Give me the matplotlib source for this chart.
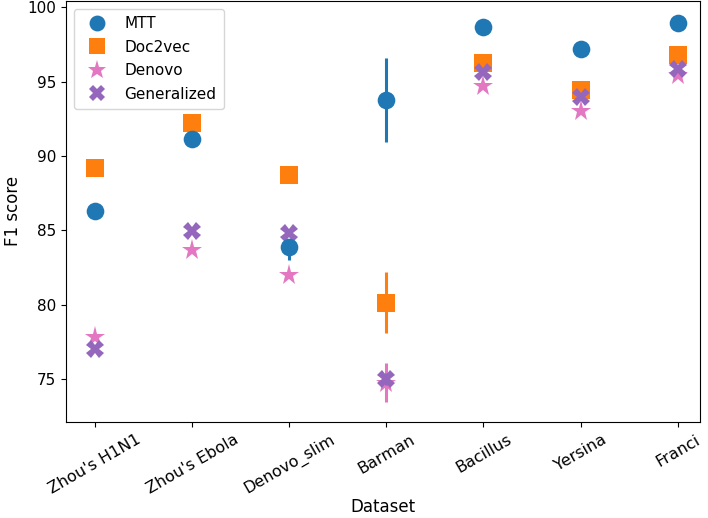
import matplotlib
matplotlib.use("Agg")
import matplotlib.pyplot as plt
from matplotlib.lines import Line2D
import numpy as np

datasets = ["Zhou's H1N1", "Zhou's Ebola", "Denovo_slim", "Barman", "Bacillus", "Yersina", "Franci"]

mtt = [86.32, 91.14, 83.90, 93.77, 98.69, 97.21, 98.92]
mtt_err_low = [0.2, 0.2, 0.9, 2.85, 0.2, 0.2, 0.2]
mtt_err_high = [0.2, 0.2, 0.3, 2.84, 0.2, 0.2, 0.2]

doc2vec = [89.17, 92.20, 88.72, 80.09, 96.23, 94.44, 96.79]
doc2vec_err_low = [0.2, 0.2, 0.2, 2.02, 0.2, 0.2, 0.2]
doc2vec_err_high = [0.2, 0.2, 0.2, 2.13, 0.2, 0.2, 0.2]

denovo = [77.84, 83.68, 81.97, 74.75, 94.71, 93.03, 95.44]
denovo_err_low = [0.2, 0.2, 0.2, 1.28, 0.2, 0.2, 0.2]
denovo_err_high = [0.2, 0.2, 0.2, 1.35, 0.2, 0.2, 0.2]

generalized = [77.00, 84.97, 84.80, 74.98, 95.67, 93.95, 95.83]
generalized_err_low = [0.2, 0.2, 0.2, 0.4, 0.2, 0.2, 0.2]
generalized_err_high = [0.2, 0.2, 0.2, 0.4, 0.2, 0.2, 0.2]

fig = plt.figure(figsize=(7.08, 5.18), dpi=100)
ax = fig.add_axes([0.0932, 0.186, 0.8955, 0.812])

x = np.arange(len(datasets))
series = [
    ("MTT", mtt, mtt_err_low, mtt_err_high, "o", "#1f77b4", 5, 12.7),
    ("Doc2vec", doc2vec, doc2vec_err_low, doc2vec_err_high, "s", "#ff7f0e", 3, 12.7),
    ("Denovo", denovo, denovo_err_low, denovo_err_high, "*", "#e377c2", 2, 15.5),
    ("Generalized", generalized, generalized_err_low, generalized_err_high, "X", "#9467bd", 4, 12.7),
]
handles = []
for name, vals, lo, hi, mk, col, z, ms in series:
    ax.errorbar(x, vals, yerr=[lo, hi], fmt=mk, color=col, ecolor=col,
                markersize=ms, markeredgewidth=0, elinewidth=2.2,
                capsize=0, linestyle="none", zorder=z)
    handles.append(Line2D([], [], marker=mk, color=col, linestyle="none",
                          markersize=ms * 0.9, markeredgewidth=0))

ax.set_xlim(-0.3, 6.23)
ax.set_ylim(72.13, 100.42)
ax.set_yticks([75, 80, 85, 90, 95, 100])
ax.set_xticks(x)
ax.set_xticklabels(datasets, rotation=30, ha="center")
ax.tick_params(axis="y", labelsize=11)
ax.tick_params(axis="x", labelsize=11.5, pad=4)
ax.set_xlabel("Dataset", fontsize=12)
ax.xaxis.set_label_coords(0.5, -0.203)
ax.xaxis.label.set_va("center")
ax.set_ylabel("F1 score", fontsize=12)

ax.legend(handles=handles, labels=[s[0] for s in series], loc="upper left",
          fontsize=11, borderpad=0.5, labelspacing=0.55)

fig.savefig("out.png", dpi=100)
